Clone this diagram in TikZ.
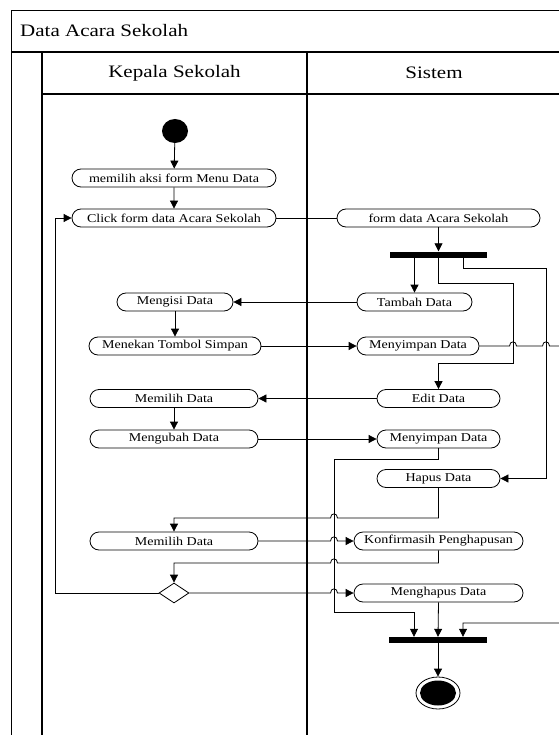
\documentclass[tikz,border=0pt]{standalone}
\usepackage{fontspec}
\setmainfont{Liberation Serif}
\newfontfamily\nfont[FakeStretch=1.17]{Liberation Serif}
\newfontfamily\hfont[FakeStretch=1.2]{Liberation Serif}
\usetikzlibrary{arrows.meta,shapes.geometric,shapes.misc}
\tikzset{
  act/.style={rounded rectangle, draw=black, line width=0.8pt, minimum height=18pt, inner sep=0pt, font=\nfont\fontsize{12}{14}\selectfont},
  bar/.style={rectangle, fill=black, inner sep=0pt, minimum height=6pt},
  lane/.style={line width=1.1pt, draw=black},
  conn/.style={line width=0.8pt, draw=black},
  arr/.style={conn, -{Triangle[length=8pt,width=8pt]}},
  hdr/.style={font=\hfont\fontsize{17.5}{20}\selectfont, inner sep=0pt}
}
\begin{document}
\begin{tikzpicture}[x=1pt,y=-1pt]
\useasboundingbox (0,0) rectangle (558,735);
% frame
\draw[lane] (11.7,760) -- (11.7,10.7) -- (575,10.7);
\draw[lane] (11.7,52) -- (575,52);
\draw[lane] (42,760) -- (42,52);
\draw[lane] (42,94) -- (575,94);
\draw[lane] (307,52) -- (307,760);
\draw[lane] (561,52) -- (561,760);
\node[hdr, anchor=west] (title) at (20,31) {Data Acara Sekolah};
\node[hdr] (h1) at (174.5,73) {Kepala Sekolah};
\node[hdr] (h2) at (434,73) {Sistem};
% nodes
\node[ellipse, fill=black, minimum width=26pt, minimum height=24pt, inner sep=0pt] (start) at (175,131) {};
\node[act, minimum width=204pt] (a1) at (174,178) {memilih aksi form Menu Data};
\node[act, minimum width=204pt] (a2) at (174,218) {Click form data Acara Sekolah};
\node[act, minimum width=203pt] (s1) at (438.5,218) {form data Acara Sekolah};
\node[bar, minimum width=97pt] (fork) at (438.5,254.5) {};
\node[act, minimum width=115pt] (s2) at (414.5,302) {Tambah Data};
\node[act, minimum width=116pt] (a3) at (175,302) {Mengisi Data};
\node[act, minimum width=172pt] (a4) at (175,346) {Menekan Tombol Simpan};
\node[act, minimum width=122pt] (s3) at (418,346) {Menyimpan Data};
\node[act, minimum width=123pt] (s4) at (438.5,398.5) {Edit Data};
\node[act, minimum width=168pt] (a5) at (174,398.5) {Memilih Data};
\node[act, minimum width=168pt] (a6) at (174,439) {Mengubah Data};
\node[act, minimum width=123pt] (s5) at (438.5,439) {Menyimpan Data};
\node[act, minimum width=123pt] (s6) at (438.5,478.5) {Hapus Data};
\node[act, minimum width=168pt] (a7) at (174,541) {Memilih Data};
\node[act, minimum width=169pt] (s7) at (438.5,541) {Konfirmasih Penghapusan};
\node[diamond, draw=black, line width=0.8pt, minimum width=30pt, minimum height=20pt, inner sep=0pt] (d) at (174,593) {};
\node[act, minimum width=169pt] (s8) at (438.5,593) {Menghapus Data};
\node[bar, minimum width=98pt] (join) at (438,640) {};
\node[ellipse, draw=black, line width=0.8pt, fill=white, minimum width=44pt, minimum height=32pt, inner sep=0pt] (endo) at (438,693) {};
\node[ellipse, fill=black, minimum width=36pt, minimum height=25pt, inner sep=0pt] (endi) at (endo.center) {};
% connectors
\draw[arr] (start) -- (a1);
\draw[arr] (a1) -- (a2);
\draw[conn] (a2.east) -- (s1.west);
\draw[arr] (s1.south) -- (fork.north);
\draw[arr] (s2.north |- fork.south) -- (s2.north);
\draw[arr] (fork.south) -- (438.5,283) -- (513,283) -- (513,363) -- (438.5,363) -- (s4.north);
\draw[arr] (fork.south -| 463,0) -- (463,268) -- (546,268) -- (546,478.5) -- (s6.east);
\draw[arr] (s2.west) -- (a3.east);
\draw[arr] (a3.south) -- (a4.north);
\draw[arr] (a4.east) -- (s3.west);
\draw[arr] (s3.east) -- (509.5,346) .. controls (509.5,340.5) and (516.5,340.5) .. (516.5,346)
  -- (542.5,346) .. controls (542.5,340.5) and (549.5,340.5) .. (549.5,346)
  -- (570,346) -- (570,623) -- (463,623) -- (join.north -| 463,0);
\draw[arr] (s4.west) -- (a5.east);
\draw[arr] (a5.south) -- (a6.north);
\draw[arr] (a6.east) -- (s5.west);
\draw[arr] (s5.south) -- (438.5,459) -- (334,459) -- (334,612) -- (414,612) -- (join.north -| 414,0);
\draw[arr] (s6.south) -- (438.5,518) -- (337.5,518) .. controls (337.5,512.5) and (330.5,512.5) .. (330.5,518)
  -- (174,518) -- (a7.north);
\draw[arr] (a7.east) -- (330.5,541) .. controls (330.5,535.5) and (337.5,535.5) .. (337.5,541) -- (s7.west);
\draw[arr] (s7.south) -- (438.5,563) -- (337.5,563) .. controls (337.5,557.5) and (330.5,557.5) .. (330.5,563)
  -- (174,563) -- (d.north);
\draw[arr] (d.east) -- (330.5,593) .. controls (330.5,587.5) and (337.5,587.5) .. (337.5,593) -- (s8.west);
\draw[arr] (d.west) -- (55,593) -- (55,218) -- (a2.west);
\draw[arr] (s8.south) -- (join.north);
\draw[arr] (join.south) -- (endo.north);
\end{tikzpicture}
\end{document}
